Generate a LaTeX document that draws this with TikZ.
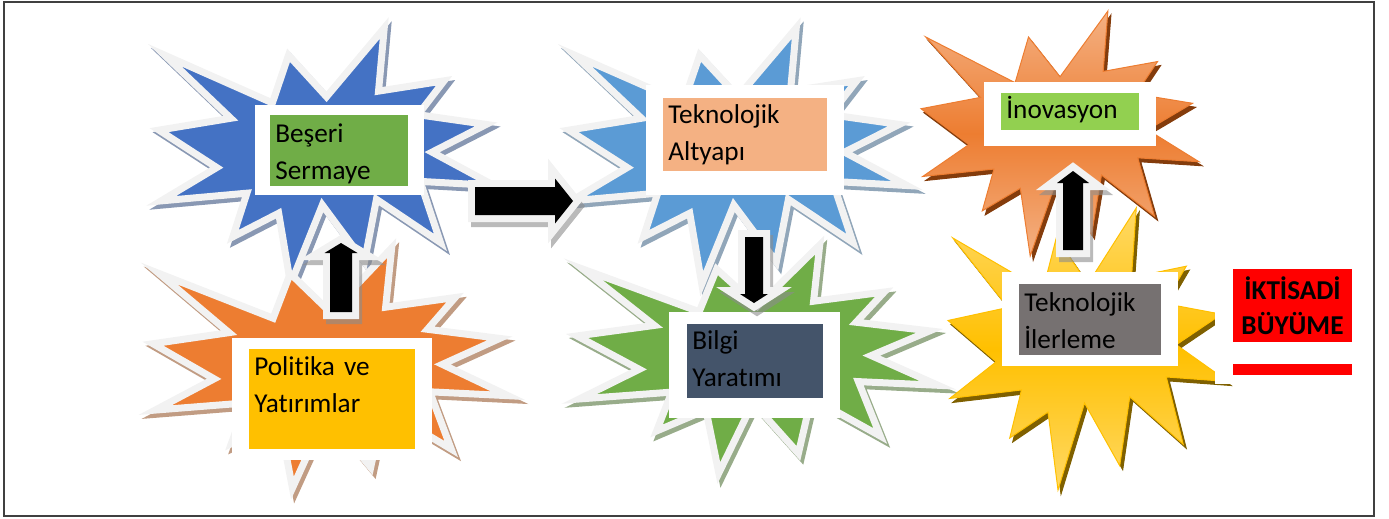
\documentclass[tikz,border=0pt]{standalone}
\usepackage{fontspec}
\setmainfont{Carlito}[Ligatures=NoCommon]
\usetikzlibrary{calc}

\definecolor{accblue}{HTML}{4472C4}
\definecolor{acclight}{HTML}{5B9BD5}
\definecolor{accorange}{HTML}{ED7D31}
\definecolor{accgreen}{HTML}{70AD47}
\definecolor{accgold}{HTML}{FFC000}
\definecolor{paleline}{HTML}{F2F2F2}
\definecolor{salmon}{HTML}{F4B183}
\definecolor{lime}{HTML}{92D050}
\definecolor{slate}{HTML}{44546A}
\definecolor{stone}{HTML}{767171}
\definecolor{rust}{HTML}{843C0C}
\definecolor{olive}{HTML}{7F6000}

% explosion outline, 216 x 216 units
\def\burstpath{(108,58) -- (145.22,0) -- (141.55,53.25) -- (183.8,44.57) -- (167.02,73.15) -- (210.97,81.37) -- (176.07,104.75) -- (216,132.9) -- (168.37,129.42) -- (181.45,180.95) -- (140.2,144.57) -- (132.47,197.37) -- (105.32,149.35) -- (84.85,216) -- (77.15,156.27) -- (47.62,176.17) -- (56.67,139.37) -- (1.35,145.87) -- (37.22,117.75) -- (0,86.15) -- (46.27,76.17) -- (3.7,22.95) -- (73.12,63.2) -- (83.52,22.95) -- cycle}
\newcommand{\burst}[5]{\path[#1, shift={(#2,#3)}, xscale=#4/216, yscale=#5/216] \burstpath;}

% block arrow: tail, tip, half shaft, half head, head length
\newcommand{\blockarrow}[5]{%
  \coordinate (hb) at ($(#2)!#5!(#1)$);
  \def\arrowoutline{($(#1)!#3!90:(#2)$) -- ($(hb)!#3!90:(#2)$) -- ($(hb)!#4!90:(#2)$) -- (#2) -- ($(hb)!#4!-90:(#2)$) -- ($(hb)!#3!-90:(#2)$) -- ($(#1)!#3!-90:(#2)$) -- cycle}%
  \path[arrowshadow] \arrowoutline;
  \path[arrowrim] \arrowoutline;
  \path[arrowcore] \arrowoutline;
}

\tikzstyle{burst}=[draw=paleline, line width=0.14cm, line join=miter]
\tikzstyle{arrowshadow}=[fill=black!45, draw=black!45, line width=0.28cm, line join=miter, opacity=0.6, transform canvas={shift={(3,5)}}]
\tikzstyle{arrowrim}=[fill=paleline, draw=paleline, line width=0.28cm, line join=miter]
\tikzstyle{arrowcore}=[fill=black]
\tikzstyle{textbox}=[anchor=north west, inner xsep=0.1cm, inner ysep=0pt, align=left, font=\fontsize{15.5}{21}\selectfont]
\tikzset{
  burstshadow/.style={fill=#1!60!black!55!white, draw=#1!60!black!55!white, line width=0.14cm, line join=miter},
  glowshadow/.style={fill=#1, draw=#1, line width=0.02cm, line join=miter},
  glow/.style={top color=#1!60!white, bottom color=#1!60!white, middle color=#1, draw=#1, line width=0.02cm, line join=miter}
}

\begin{document}
\begin{tikzpicture}[x=0.02cm, y=-0.02cm]
  \useasboundingbox (0,0) rectangle (1389,518);
  \draw[black!75, line width=0.7pt] (4,2) rectangle (1374,516);

  % upper row
  \burst{burstshadow=accblue}{162}{32}{335}{256}
  \burst{burst, fill=accblue}{159}{28}{335}{256}
  \burst{burstshadow=acclight}{572}{32}{338}{256}
  \burst{burst, fill=acclight}{569}{28}{338}{256}
  \burst{glowshadow=rust}{924}{15}{278}{245}
  \burst{glow=accorange}{921}{11}{278}{245}

  % lower row
  \burst{burstshadow=accorange}{156}{252}{355}{240}
  \burst{burst, fill=accorange}{153}{248}{355}{240}
  \burst{burstshadow=accgreen}{580}{249}{361}{228}
  \burst{burst, fill=accgreen}{577}{245}{361}{228}
  \burst{glowshadow=olive}{951}{212}{280}{282}
  \burst{glow=accgold}{948}{208}{280}{282}

  % white frames
  \foreach \xa/\ya/\xb/\yb in {255/105/424/195, 646/85/844/195, 984/82/1156/146,
                               232/338/432/460, 669/312/840/418, 1002/272/1178/366,
                               1215/262/1358/384}
    \fill[white] (\xa,\ya) rectangle (\xb,\yb);

  % coloured boxes
  \foreach \pos/\name/\tw/\hgt/\dpt/\col/\label in {
      {(270,115)/beseri/2.56cm/0.54cm/0.88cm/accgreen/Beşeri\\Sermaye},
      {(663,98)/altyapi/3.08cm/0.5cm/0.96cm/salmon/Teknolojik\\Altyapı},
      {(1001,93)/inovasyon/2.56cm/0.5cm/0.24cm/lime/İnovasyon},
      {(249,349)/politika/3.12cm/0.52cm/1.48cm/accgold/Politika ve\\Yatırımlar},
      {(687,324)/bilgi/2.52cm/0.5cm/0.98cm/slate/Bilgi\\Yaratımı},
      {(1019,284)/ilerleme/2.64cm/0.54cm/0.88cm/stone/Teknolojik\\İlerleme}}
    \node[textbox, fill=\col, text width=\tw, text height=\hgt, text depth=\dpt] (\name) at \pos {\label};

  \node[fill=red, text=black, minimum width=2.38cm, minimum height=1.46cm, inner sep=0pt, align=center,
        font=\bfseries\fontsize{15.5}{19.9}\selectfont] (buyume) at (1292.5,305.5) {İKTİSADİ\\BÜYÜME};
  \fill[red] (1233,364) rectangle (1352,375);

  % arrows
  \coordinate (polTail) at (341,312);
  \coordinate (besTip) at (341,243);
  \coordinate (besTail) at (475,201);
  \coordinate (altTip) at (573,201);
  \coordinate (altTail) at (754,237);
  \coordinate (bilTip) at (754,303);
  \coordinate (ilrTail) at (1073,250);
  \coordinate (inoTip) at (1073,171);

  \blockarrow{polTail}{besTip}{0.22cm}{0.33cm}{0.2cm}
  \blockarrow{besTail}{altTip}{0.28cm}{0.45cm}{0.36cm}
  \blockarrow{altTail}{bilTip}{0.18cm}{0.28cm}{0.18cm}
  \blockarrow{ilrTail}{inoTip}{0.2cm}{0.32cm}{0.24cm}

\end{tikzpicture}
\end{document}
